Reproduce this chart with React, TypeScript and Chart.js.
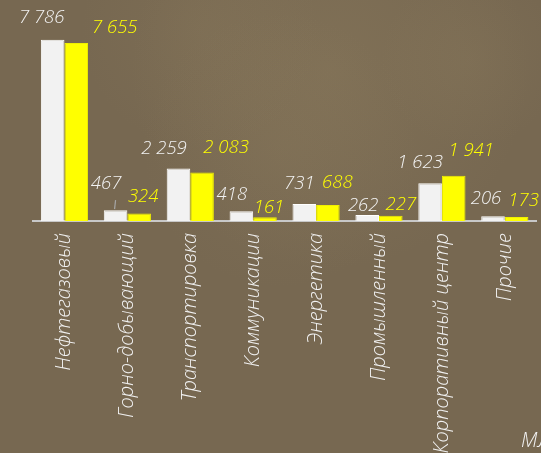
import React, { useEffect, useRef } from "react";
import { Chart, registerables } from "chart.js";

Chart.register(...registerables);

const categories = [
  "Нефтегазовый",
  "Горно-добывающий",
  "Транспортировка",
  "Коммуникации",
  "Энергетика",
  "Промышленный",
  "Корпоративный центр",
  "Прочие",
];
const seriesWhite = [7786, 467, 2259, 418, 731, 262, 1623, 206];
const seriesYellow = [7655, 324, 2083, 161, 688, 227, 1941, 173];
const unitLabel = "МЛРД ТЕНГЕ";

// label offsets (px) relative to each bar's top centre
const whiteLabelDx = [-11, -9.5, -14.5, -9.5, -5, -4, -10, -7];
const whiteLabelDy = [-22, -26, -20, -17, -20, -9, -21, -17];
const yellowLabelDx = [38.5, 4, 24, 4, 9.5, 10, 17.5, 7];
const yellowLabelDy = [-15, -17, -25, -10, -22, -11, -25, -16];

const FONT = "'Open Sans', 'DejaVu Sans', sans-serif";

const fmt = (v: number) => {
  const s = String(Math.round(v));
  return s.replace(/\B(?=(\d{3})+(?!\d))/g, " ");
};

const bgPlugin = {
  id: "bg",
  beforeDraw(chart: any) {
    const { ctx, width, height } = chart;
    ctx.save();
    ctx.fillStyle = "#776851";
    ctx.fillRect(0, 0, width, height);
    const blobs = [
      [330, 70, 200, 0.22],
      [200, 30, 120, 0.12],
      [470, 60, 90, 0.12],
      [280, 150, 140, 0.1],
    ];
    for (const [x, y, r, a] of blobs) {
      const g = ctx.createRadialGradient(x, y, 0, x, y, r);
      g.addColorStop(0, `rgba(160,142,105,${a})`);
      g.addColorStop(1, "rgba(160,142,105,0)");
      ctx.fillStyle = g;
      ctx.fillRect(0, 0, width, height);
    }
    ctx.restore();
  },
};

const labelPlugin = {
  id: "valueLabels",
  afterDatasetsDraw(chart: any) {
    const { ctx } = chart;
    ctx.save();
    ctx.font = `italic 300 18.5px ${FONT}`;
    ctx.textAlign = "center";
    ctx.textBaseline = "middle";
    const cfg = [
      { dx: whiteLabelDx, dy: whiteLabelDy, color: "#f2f2f2" },
      { dx: yellowLabelDx, dy: yellowLabelDy, color: "#ffff00" },
    ];
    chart.data.datasets.forEach((ds: any, di: number) => {
      const meta = chart.getDatasetMeta(di);
      meta.data.forEach((bar: any, i: number) => {
        const x = bar.x + cfg[di].dx[i];
        const y = bar.y + cfg[di].dy[i];
        ctx.fillStyle = cfg[di].color;
        ctx.fillText(fmt(ds.data[i]), x, y);
        if (di === 0 && i === 1) {
          ctx.strokeStyle = "#a6a6a6";
          ctx.lineWidth = 1.2;
          ctx.beginPath();
          ctx.moveTo(bar.x, y + 16);
          ctx.lineTo(bar.x - 1, bar.y - 1);
          ctx.stroke();
        }
      });
    });
    ctx.font = `italic 300 20px ${FONT}`;
    ctx.textAlign = "left";
    ctx.fillStyle = "#f2f2f2";
    ctx.fillText(unitLabel, 521, 441);
    ctx.restore();
  },
};

export default function App() {
  const ref = useRef<HTMLCanvasElement>(null);
  useEffect(() => {
    document.body.style.margin = "0";
    const chart = new Chart(ref.current!, {
      type: "bar",
      data: {
        labels: categories,
        datasets: [
          {
            data: seriesWhite,
            backgroundColor: "#f2f2f2",
            borderColor: "#ffffff",
            borderWidth: 1,
          },
          {
            data: seriesYellow,
            backgroundColor: "#ffff00",
            borderColor: "#f0f000",
            borderWidth: 1,
          },
        ],
      },
      options: {
        animation: false,
        responsive: false,
        maintainAspectRatio: false,
        layout: { padding: { left: 33, right: 3, top: 0, bottom: 0 } },
        plugins: { legend: { display: false }, tooltip: { enabled: false } },
        datasets: { bar: { categoryPercentage: 0.75, barPercentage: 1.0 } },
        scales: {
          x: {
            grid: { display: false, drawTicks: false },
            border: { display: true, color: "#c8c8c8", width: 2 },
            ticks: {
              color: "#f2f2f2",
              font: { family: FONT, size: 20, style: "italic", weight: "300" },
              maxRotation: 90,
              minRotation: 90,
              padding: 12,
              autoSkip: false,
            },
            afterFit: (scale: any) => {
              scale.height = 232;
            },
          },
          y: {
            display: false,
            min: 0,
            max: 9500,
          },
        },
      },
      plugins: [bgPlugin, labelPlugin],
    });
    return () => chart.destroy();
  }, []);
  return <canvas ref={ref} width={541} height={453} style={{ display: "block" }} />;
}
